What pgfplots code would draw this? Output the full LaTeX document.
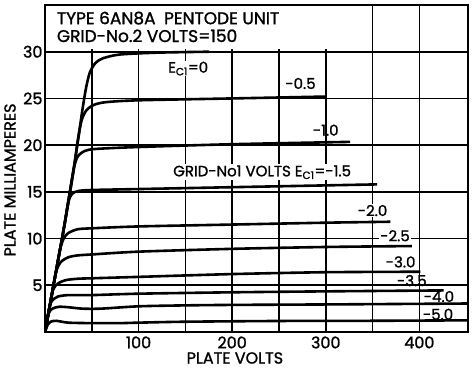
\documentclass[border=0pt]{standalone}
\usepackage{fontspec}
\setmainfont{Poppins}[FakeBold=1.3]
\usepackage{pgfplots}
\pgfplotsset{compat=1.18}
\begin{document}
\begin{tikzpicture}
\begin{axis}[
  name=ax, at={(0pt,0pt)}, anchor=south west,
  scale only axis, width=423pt, height=327pt,
  xmin=0, xmax=452, ymin=0, ymax=35,
  axis line style={line width=1.8pt},
  xtick={100,200,300,400}, ytick={5,10,15,20,25,30},
  minor xtick={50,150,250,350},
  grid=both,
  major grid style={line width=1.6pt, black},
  minor grid style={line width=1.6pt, black},
  tick style={draw=none},
  /pgf/number format/assume math mode=true,
  ticklabel style={font=\fontsize{16}{16}\selectfont},
  xticklabel style={yshift=-1pt},
  yticklabel style={xshift=1pt},
  xlabel={PLATE VOLTS}, ylabel={PLATE MILLIAMPERES},
  label style={font=\fontsize{16}{16}\selectfont},
  xlabel style={at={(axis description cs:0.449,-0.0795)}, anchor=center},
  ylabel style={at={(axis description cs:-0.0827,0.465)}, anchor=center},
  cycle list={{black, solid, mark=none}},
  every axis plot post/.append style={line width=2.6pt, smooth, tension=0.45},
]
% blank the title area (no grid above 30 mA left of 350 V)
\fill[white] (axis cs:1,30.25) rectangle (axis cs:346,34.85);
% Ec1 = 0
\addplot coordinates {(0,0)(10,5.5)(20,11)(30,17)(36,21)(40,23.8)(44,26.2)(48,27.8)(54,28.8)(62,29.3)(80,29.7)(120,29.9)(175,30.0)};
% -0.5
\addplot coordinates {(0,0)(10,5.5)(20,11)(30,17)(35,20.5)(39,22.6)(44,23.7)(52,24.3)(65,24.6)(100,24.8)(200,25.0)(300,25.2)};
% -1.0
\addplot coordinates {(0,0)(10,5.5)(20,11)(27,15.3)(31,17.6)(35,18.8)(43,19.4)(55,19.6)(100,19.8)(200,20.1)(326,20.35)};
% -1.5
\addplot coordinates {(0,0)(10,5.5)(20,11)(25,13.9)(29,14.8)(36,15.1)(50,15.2)(100,15.3)(200,15.5)(355,15.8)};
% -2.0
\addplot coordinates {(0,0)(10,5.5)(16,8.8)(20,10.0)(25,10.6)(35,11.0)(50,11.1)(100,11.3)(200,11.5)(300,11.7)(369,11.8)};
% -2.5
\addplot coordinates {(0,0)(8,4.4)(12,6.5)(17,7.5)(25,8.0)(35,8.2)(50,8.3)(100,8.6)(200,8.9)(300,9.1)(392,9.2)};
% -3.0
\addplot coordinates {(0,0)(6,3.3)(9,4.6)(14,5.2)(22,5.55)(35,5.7)(50,5.75)(100,5.9)(200,6.2)(300,6.4)(401,6.45)};
% -3.5
\addplot coordinates {(0,0)(5,2.7)(8,3.4)(14,3.8)(25,3.95)(50,3.95)(100,4.1)(200,4.25)(300,4.35)(426,4.45)};
% -4.0
\addplot coordinates {(0,0)(4,2.0)(8,2.5)(15,2.7)(25,2.65)(40,2.5)(60,2.5)(100,2.75)(150,2.85)(200,2.9)(300,2.95)(452,3.05)};
% -5.0
\addplot coordinates {(0,0)(3,0.8)(6,1.1)(12,1.2)(25,1.0)(50,0.95)(80,0.95)(100,1.0)(150,1.1)(250,1.18)(350,1.2)(452,1.25)};
% texts
\node[font=\fontsize{17}{17}\selectfont, anchor=west] at (axis cs:9,33.6) {TYPE 6AN8A\enspace PENTODE UNIT};
\node[font=\fontsize{17}{17}\selectfont, anchor=west] at (axis cs:9,31.7) {GRID-No.2 VOLTS=150};
\node[font=\fontsize{15}{15}\selectfont, fill=white, inner sep=1pt] at (axis cs:153,28.2) {E\textsubscript{C1}=0};
\node[font=\fontsize{15}{15}\selectfont] at (axis cs:273,26.6) {-0.5};
\node[font=\fontsize{15}{15}\selectfont] at (axis cs:300,21.6) {-1.0};
\node[font=\fontsize{15}{15}\selectfont, fill=white, inner sep=1pt] at (axis cs:232,17.1) {GRID-No1 VOLTS E\textsubscript{C1}=-1.5};
\node[font=\fontsize{15}{15}\selectfont, fill=white, inner sep=1pt] at (axis cs:350,13.0) {-2.0};
\node[font=\fontsize{15}{15}\selectfont, fill=white, inner sep=1pt] at (axis cs:374,10.3) {-2.5};
\node[font=\fontsize{15}{15}\selectfont, fill=white, inner sep=1pt] at (axis cs:380,7.5) {-3.0};
\node[font=\fontsize{15}{15}\selectfont] at (axis cs:392,5.5) {-3.5};
\node[font=\fontsize{15}{15}\selectfont] at (axis cs:421,3.8) {-4.0};
\node[font=\fontsize{15}{15}\selectfont] at (axis cs:420,1.9) {-5.0};
\node[font=\fontsize{16}{16}\selectfont] at (axis cs:0,0) [xshift=-13pt, yshift=-9pt] {0};
\end{axis}
\pgfresetboundingbox
\path (-45pt,-41pt) rectangle (429pt,332pt);
\end{tikzpicture}
\end{document}
